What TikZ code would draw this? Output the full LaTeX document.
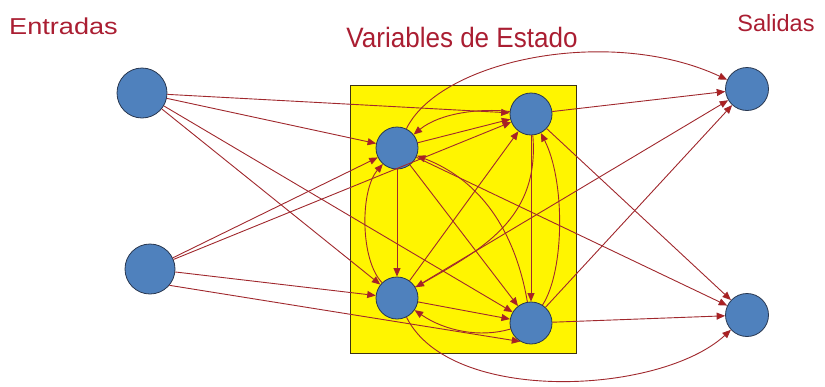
\documentclass[tikz,border=0pt]{standalone}
\usepackage{fontspec}
\usepackage{graphicx}
\setmainfont{Liberation Sans}
\usetikzlibrary{arrows.meta}
\definecolor{txtred}{RGB}{170,30,50}
\definecolor{linered}{RGB}{160,40,45}
\definecolor{tipred}{RGB}{175,30,30}
\definecolor{nodeblue}{RGB}{79,129,189}
\definecolor{nodeedge}{RGB}{40,55,80}
\definecolor{boxyellow}{RGB}{255,245,0}
\definecolor{boxedge}{RGB}{60,50,20}
\tikzset{
  varnode/.style={circle, fill=nodeblue, draw=nodeedge, line width=0.8pt, minimum size=42pt, inner sep=0pt},
  ionode/.style={circle, fill=nodeblue, draw=nodeedge, line width=0.8pt, minimum size=50pt, inner sep=0pt},
  outnode/.style={circle, fill=nodeblue, draw=nodeedge, line width=0.8pt, minimum size=43pt, inner sep=0pt},
  ar/.style={draw=linered, line width=0.9pt, -{Triangle[length=8.5pt,width=7pt,fill=tipred]}},
  title/.style={text=txtred, anchor=base, inner sep=0pt}
}
\begin{document}
\begin{tikzpicture}[x=1pt,y=-1pt]
\useasboundingbox (0,0) rectangle (825,386);
% titles
\node[title, font=\fontsize{23}{26}\selectfont] (tin) at (63.5,34) {\scalebox{1.18}[1]{Entradas}};
\node[title, font=\fontsize{28}{32}\selectfont] (tvar) at (462,47) {\scalebox{0.93}[1]{Variables de Estado}};
\node[title, font=\fontsize{23.5}{26}\selectfont] (tout) at (776,31) {\scalebox{1.0}[1]{Salidas}};
% box
\node[draw=boxedge, line width=1pt, fill=boxyellow, minimum width=226pt, minimum height=268pt, inner sep=0pt] (box) at (463,219) {};
% nodes
\node[ionode] (in1) at (142,93) {};
\node[ionode] (in2) at (150,269) {};
\node[varnode] (A) at (397,148) {};
\node[varnode] (B) at (531,114) {};
\node[varnode] (C) at (397,298) {};
\node[varnode] (D) at (531,323) {};
\node[outnode] (o1) at (747,89) {};
\node[outnode] (o2) at (747,315) {};
% inputs
\draw[ar] (in1) -- (B);
\draw[ar] (in1) -- (A);
\draw[ar] (in1) -- (D);
\draw[ar] (in1) -- (C);
\draw[ar] (in2) -- (A);
\draw[ar] (in2) -- (B);
\draw[ar] (in2) -- (C);
\draw[ar] (in2.-40) -- (D.240);
% state straight
\draw[ar] (A) -- (C);
\draw[ar] (B) -- (D);
\draw[ar] (A) -- (B);
\draw[ar] (A) -- (D);
\draw[ar] (C) -- (B);
\draw[ar] (C) -- (D);
% state curves
\draw[ar] (B) .. controls (480,108) and (440,113) .. (A);
\draw[ar] (C) .. controls (360,260) and (360,190) .. (A);
\draw[ar] (D) .. controls (565,270) and (565,180) .. (B);
\draw[ar] (B) .. controls (540,220) and (480,250) .. (C);
\draw[ar] (D) .. controls (515,230) and (480,180) .. (A);
\draw[ar] (D) .. controls (480,338) and (445,331) .. (C);
% outputs
\draw[ar] (A) -- (o2);
\draw[ar] (B) -- (o1);
\draw[ar] (B) -- (o2);
\draw[ar] (C) -- (o1);
\draw[ar] (D) -- (o1);
\draw[ar] (D) -- (o2);
\draw[ar] (A) .. controls (440,60) and (610,25) .. (o1);
\draw[ar] (C) .. controls (450,405) and (660,395) .. (o2);
\end{tikzpicture}
\end{document}
